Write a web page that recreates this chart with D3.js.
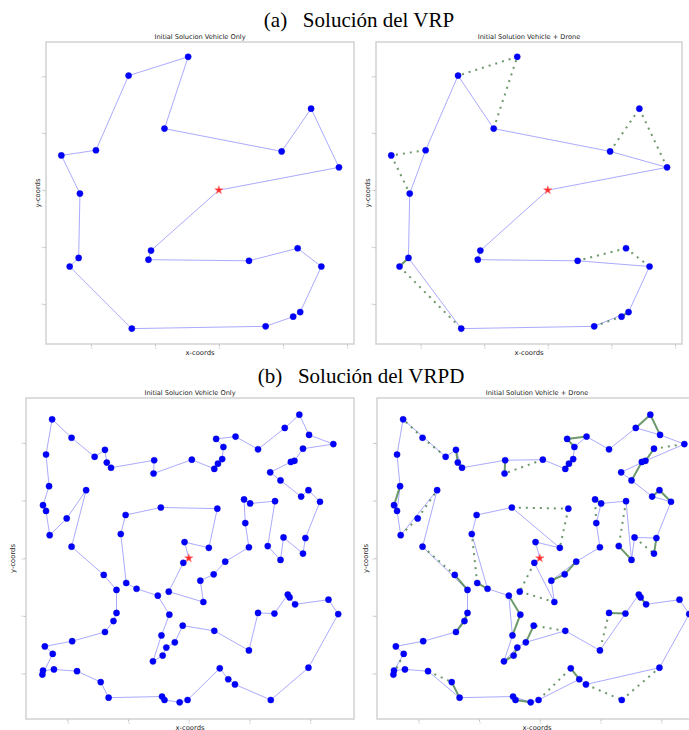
<!DOCTYPE html>
<html><head><meta charset="utf-8">
<script src="https://cdn.jsdelivr.net/npm/d3@7"></script>
<style>body{margin:0;background:#fff}svg{display:block}</style>
</head><body>
<script>
// ---------------- DATA ----------------
const tickValues = [-2, -1, 0, 1, 2];
const tickLabels = ["-2", "-1", "0", "1", "2"];

const captionA = "(a)   Solución del VRP";
const captionB = "(b)   Solución del VRPD";
const titleLeft = "Initial Solucion Vehicle Only";
const titleRight = "Initial Solution Vehicle + Drone";
const xLabel = "x-coords";
const yLabel = "y-coords";

// VRP instance: id 0 = depot
const vrpX = [0, -0.48, -1.41, -0.85, 0.98, 1.44, 1.875, -1.92, -2.46, -2.17, -2.19, -2.33, -1.36, 0.73, 1.16, 1.27, 1.60, 1.23, 0.47, -1.10, -1.06];
const vrpY = [0, 2.34, 2.01, 1.08, 0.68, 1.43, 0.40, 0.70, 0.61, -0.06, -1.19, -1.34, -2.43, -2.39, -2.22, -2.14, -1.34, -1.02, -1.24, -1.22, -1.06];
const vrpDepot = 0;
const vrpRouteVehicleOnly = [0, 6, 5, 4, 3, 1, 2, 7, 8, 9, 10, 11, 12, 13, 14, 15, 16, 17, 18, 19, 20, 0];
const vrpRouteVehicle = [0, 6, 4, 3, 2, 7, 9, 10, 12, 13, 15, 16, 18, 19, 20, 0];
const vrpDroneSorties = [[4, 5, 6], [3, 1, 2], [7, 8, 9], [10, 11, 12], [13, 14, 15], [16, 17, 18]];

// VRPD instance: ids 1..101 (id 45 = depot)
const vrpdX = [-2.25, -1.93, -1.55, -1.38, -1.35, -1.28, -0.57, -0.58, 0.05, 0.42,
  0.48, 0.55, 0.57, 0.45, 0.77, 1.14, 1.58, 1.82, 1.98, 2.38,
  1.88, 1.74, 1.68, 1.51, 1.34, 1.85, 1.97, 2.16, 1.92, 1.88,
  1.56, 1.51, 1.30, 1.42, 1.01, 0.91, 0.93, 0.99, 0.60, 0.41,
  0.19, 0.24, -0.33, -0.09, 0, -0.07, 0.33, 0.47, -0.46, -1.04,
  -1.12, -1.03, -0.86, -0.51, -0.32, -0.45, -0.59, -0.43, -0.37, -0.23,
  -0.10, 0.42, 0.99, 1.14, 1.41, 1.63, 1.66, 1.75, 2.30, 2.46,
  1.97, 1.35, 0.76, 0.65, 0.51, -0.02, -0.15, -0.40, -0.44, -1.32,
  -1.45, -1.84, -2.22, -2.40, -2.41, -2.24, -2.37, -1.92, -1.38, -1.24,
  -1.19, -1.19, -1.40, -1.93, -1.69, -2.01, -2.29, -2.35, -2.40, -2.30,
  -2.35];
const vrpdY = [2.41, 2.09, 1.76, 1.88, 1.66, 1.57, 1.70, 1.47, 1.71, 1.55,
  1.64, 1.72, 1.93, 2.07, 2.11, 1.89, 2.26, 2.49, 2.14, 1.98,
  1.90, 1.69, 1.67, 1.35, 1.49, 1.07, 1.18, 0.98, 0.35, 0.08,
  0.36, -0.03, 0.21, 0.99, 0.95, 1.02, 0.61, 0.19, -0.06, -0.28,
  -0.39, -0.76, -0.58, -0.08, 0, 0.28, 0.18, 0.86, 0.88, 0.75,
  0.42, -0.43, -0.53, -0.65, -0.98, -1.34, -1.79, -1.69, -1.55, -1.46,
  -1.17, -1.26, -1.60, -0.95, -0.96, -0.63, -0.68, -0.80, -0.72, -0.97,
  -1.90, -2.46, -2.19, -2.10, -1.91, -2.46, -2.50, -2.46, -2.40, -2.42,
  -2.15, -1.96, -1.93, -1.95, -2.02, -1.66, -1.53, -1.44, -1.28, -1.09,
  -0.95, -0.55, -0.29, 0.20, 1.18, 0.69, 0.40, 0.82, 0.92, 1.25,
  1.80];
const vrpdDepot = 45;
const vrpdRouteVehicleOnly = [45, 44, 43, 42, 41, 40, 39, 38, 37, 36, 35, 34, 33, 32, 31, 30, 29, 28, 27, 26, 24, 25, 23, 22, 21, 20, 19, 18, 17, 16, 15, 14, 13, 12, 11, 10, 9, 8, 7, 6, 5, 4, 3, 2, 1, 101, 100, 99, 98, 97, 96, 95, 94, 93, 92, 91, 90, 89, 88, 87, 86, 85, 84, 83, 82, 81, 80, 79, 78, 77, 76, 75, 74, 73, 72, 71, 70, 69, 68, 67, 66, 65, 64, 63, 62, 61, 60, 59, 58, 57, 56, 55, 54, 53, 52, 51, 50, 49, 48, 47, 46, 45];
const vrpdRouteVehicle = [45, 44, 42, 41, 39, 38, 37, 35, 34, 32, 31, 29, 28, 26, 24, 25, 22, 20, 19, 17, 16, 15, 13, 12, 10, 9, 7, 6, 4, 3, 1, 101, 100, 98, 97, 95, 94, 92, 91, 89, 88, 87, 86, 84, 83, 82, 80, 79, 77, 76, 74, 73, 71, 70, 69, 68, 66, 65, 63, 62, 60, 59, 57, 56, 54, 53, 51, 50, 49, 47, 46, 45];
const vrpdDroneSorties = [[44, 43, 42], [41, 40, 39], [37, 36, 35], [34, 33, 32], [31, 30, 29], [28, 27, 26], [24, 23, 22], [22, 21, 20], [19, 18, 17], [15, 14, 13], [12, 11, 10], [9, 8, 7], [6, 5, 4], [3, 2, 1], [100, 99, 98], [97, 96, 95], [94, 93, 92], [91, 90, 89], [86, 85, 84], [82, 81, 80], [79, 78, 77], [76, 75, 74], [73, 72, 71], [68, 67, 66], [65, 64, 63], [62, 61, 60], [59, 58, 57], [56, 55, 54], [53, 52, 51], [49, 48, 47]];

// ---------------- DRAW ----------------
const W = 689, H = 730;
const svg = d3.select("body").append("svg").attr("width", W).attr("height", H)
  .attr("viewBox", `0 0 ${W} ${H}`);

svg.append("text").attr("x", 359).attr("y", 27).attr("text-anchor", "middle")
  .attr("font-family", "'Liberation Serif','Times New Roman',serif").attr("font-size", 21)
  .style("white-space", "pre").attr("fill", "#000").text(captionA);
svg.append("text").attr("x", 361).attr("y", 383).attr("text-anchor", "middle")
  .attr("font-family", "'Liberation Serif','Times New Roman',serif").attr("font-size", 21)
  .style("white-space", "pre").attr("fill", "#000").text(captionB);

const vrpPt = id => [vrpX[id], vrpY[id]];
const vrpdPt = id => [vrpdX[id - 1], vrpdY[id - 1]];
const vrpIds = d3.range(vrpX.length);
const vrpdIds = d3.range(1, vrpdX.length + 1);

const panels = [
  {x0: 46, x1: 354, y0: 42, y1: 344, xd: [-2.70, 2.11], yd: [-2.70, 2.60], title: titleLeft, ylx: 38,
   pt: vrpPt, ids: vrpIds, depot: vrpDepot, route: vrpRouteVehicleOnly, sorties: []},
  {x0: 376, x1: 682, y0: 42, y1: 344, xd: [-2.70, 2.11], yd: [-2.70, 2.60], title: titleRight, ylx: 368,
   pt: vrpPt, ids: vrpIds, depot: vrpDepot, route: vrpRouteVehicle, sorties: vrpDroneSorties},
  {x0: 26, x1: 354, y0: 398, y1: 719, xd: [-2.68, 2.72], yd: [-2.79, 2.78], title: titleLeft, ylx: 13,
   pt: vrpdPt, ids: vrpdIds, depot: vrpdDepot, route: vrpdRouteVehicleOnly, sorties: []},
  {x0: 377, x1: 705, y0: 398, y1: 719, xd: [-2.68, 2.72], yd: [-2.79, 2.78], title: titleRight, ylx: 366,
   pt: vrpdPt, ids: vrpdIds, depot: vrpdDepot, route: vrpdRouteVehicle, sorties: vrpdDroneSorties}
];

panels.forEach((p, i) => {
  const x = d3.scaleLinear().domain(p.xd).range([p.x0, p.x1]);
  const y = d3.scaleLinear().domain(p.yd).range([p.y1, p.y0]);
  const g = svg.append("g");
  const clipId = "clip" + i;
  g.append("clipPath").attr("id", clipId).append("rect")
    .attr("x", p.x0).attr("y", p.y0).attr("width", p.x1 - p.x0).attr("height", p.y1 - p.y0);

  g.append("rect").attr("x", p.x0).attr("y", p.y0).attr("width", p.x1 - p.x0).attr("height", p.y1 - p.y0)
    .attr("fill", "#fff");

  // axes
  const fmt = (d) => tickLabels[tickValues.indexOf(d)];
  const ax = g.append("g").attr("transform", `translate(0,${p.y1})`)
    .call(d3.axisBottom(x).tickValues(tickValues).tickFormat(fmt).tickSize(2.5).tickPadding(0.5));
  const ay = g.append("g").attr("transform", `translate(${p.x0},0)`)
    .call(d3.axisLeft(y).tickValues(tickValues).tickFormat(fmt).tickSize(2.5).tickPadding(0.5));
  [ax, ay].forEach(a => {
    a.select(".domain").remove();
    a.selectAll("line").attr("stroke", "#aaa").attr("stroke-width", 0.8);
    a.selectAll("text").attr("font-size", 2.5).attr("fill", "#aaa").attr("font-family", "DejaVu Sans");
  });

  const line = d3.line().x(id => x(p.pt(id)[0])).y(id => y(p.pt(id)[1]));
  const data = g.append("g").attr("clip-path", `url(#${clipId})`);

  // vehicle route
  data.append("path").attr("d", line(p.route)).attr("fill", "none")
    .attr("stroke", "#8080ff").attr("stroke-width", 0.9).attr("stroke-opacity", 0.75);

  // drone legs
  const legs = [];
  p.sorties.forEach(s => { legs.push([s[0], s[1]]); legs.push([s[1], s[2]]); });
  data.selectAll("line.drone").data(legs).join("line").attr("class", "drone")
    .attr("x1", d => x(p.pt(d[0])[0])).attr("y1", d => y(p.pt(d[0])[1]))
    .attr("x2", d => x(p.pt(d[1])[0])).attr("y2", d => y(p.pt(d[1])[1]))
    .attr("stroke", "#2e6e2e").attr("stroke-opacity", 0.7)
    .attr("stroke-width", 2)
    .attr("stroke-dasharray", d => {
      const dx = x(p.pt(d[0])[0]) - x(p.pt(d[1])[0]);
      const dy = y(p.pt(d[0])[1]) - y(p.pt(d[1])[1]);
      return Math.hypot(dx, dy) < 23 ? null : "2,5";
    });

  // customers
  data.selectAll("circle").data(p.ids.filter(id => id !== p.depot)).join("circle")
    .attr("cx", id => x(p.pt(id)[0])).attr("cy", id => y(p.pt(id)[1]))
    .attr("r", 3.1).attr("fill", "#0000ff").attr("stroke", "#0000cc").attr("stroke-width", 0.4);

  // depot
  data.append("path").attr("d", d3.symbol(d3.symbolStar, 22)())
    .attr("transform", `translate(${x(p.pt(p.depot)[0])},${y(p.pt(p.depot)[1])})`)
    .attr("fill", "#ff2a2a").attr("stroke", "#ff7777").attr("stroke-width", 0.5);

  // frame
  g.append("rect").attr("x", p.x0).attr("y", p.y0).attr("width", p.x1 - p.x0).attr("height", p.y1 - p.y0)
    .attr("fill", "none").attr("stroke", "#d2d2d2").attr("stroke-width", 1.5);

  // titles and labels
  g.append("text").attr("x", (p.x0 + p.x1) / 2 + (i === 3 ? -4 : 0)).attr("y", p.y0 - 3)
    .attr("text-anchor", "middle").attr("font-family", "'DejaVu Sans',sans-serif")
    .attr("font-size", 6.6).attr("fill", "#222").text(p.title);
  g.append("text").attr("x", (p.x0 + p.x1) / 2 + (i === 3 ? -4 : 0)).attr("y", p.y1 + 10.5)
    .attr("text-anchor", "middle").attr("font-family", "'DejaVu Sans',sans-serif")
    .attr("font-size", 6.8).attr("fill", "#222").text(xLabel);
  g.append("text").attr("transform", `translate(${p.ylx},${(p.y0 + p.y1) / 2}) rotate(-90)`)
    .attr("text-anchor", "middle").attr("dy", "0.35em").attr("font-family", "'DejaVu Sans',sans-serif")
    .attr("font-size", 6.8).attr("fill", "#222").text(yLabel);
});
</script>
</body></html>
